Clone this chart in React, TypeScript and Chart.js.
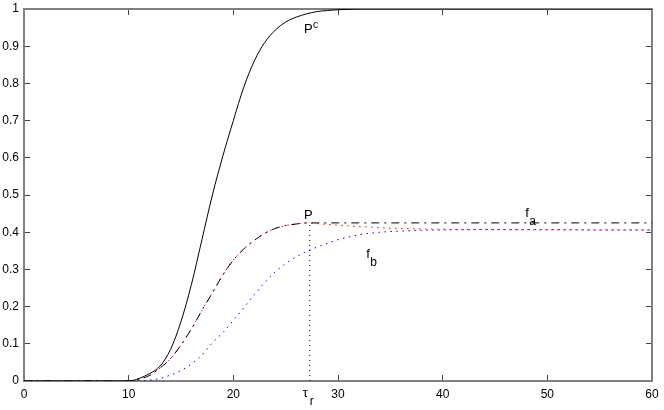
import React, { useEffect, useRef } from "react";
import { Chart, registerables } from "chart.js";
Chart.register(...registerables);

// Time axis (shared x values)
const xs = [0, 5, 10, 11, 12, 13, 14, 15, 16, 17, 18, 19, 20, 21, 22, 23, 24, 25, 26, 27, 28, 29, 30, 31, 32, 33, 34, 36, 38, 40, 45, 50, 55, 60];
// P^c (solid)
const pcValues = [0, 0, 0, 0.007, 0.02, 0.04, 0.085, 0.16, 0.26, 0.38, 0.5, 0.605, 0.7, 0.79, 0.86, 0.91, 0.943, 0.965, 0.978, 0.987, 0.993, 0.996, 0.998, 0.999, 1, 1, 1, 1, 1, 1, 1, 1, 1, 1];
// P (dash-dot)
const pValues = [0, 0, 0, 0.005, 0.015, 0.035, 0.06, 0.097, 0.14, 0.19, 0.237, 0.285, 0.325, 0.355, 0.378, 0.397, 0.41, 0.418, 0.422, 0.425, 0.425, 0.425, 0.425, 0.425, 0.425, 0.425, 0.425, 0.425, 0.425, 0.425, 0.425, 0.425, 0.425, 0.425];
// f_a (red dotted)
const faValues = [0, 0, 0, 0.005, 0.015, 0.035, 0.06, 0.097, 0.14, 0.19, 0.237, 0.285, 0.325, 0.355, 0.378, 0.397, 0.41, 0.418, 0.422, 0.425, 0.423, 0.421, 0.419, 0.417, 0.415, 0.414, 0.412, 0.41, 0.409, 0.408, 0.407, 0.406, 0.406, 0.406];
// f_b (blue dotted)
const fbValues = [0, 0, 0, 0, 0.002, 0.007, 0.016, 0.028, 0.046, 0.07, 0.103, 0.13, 0.163, 0.197, 0.232, 0.265, 0.293, 0.316, 0.334, 0.348, 0.36, 0.37, 0.38, 0.387, 0.393, 0.397, 0.4, 0.403, 0.405, 0.406, 0.407, 0.407, 0.406, 0.406];

const xTicks = [0, 10, 20, 30, 40, 50, 60];
const yTicks = [0, 0.1, 0.2, 0.3, 0.4, 0.5, 0.6, 0.7, 0.8, 0.9, 1];
const tauR = 27.3;
const tauLevel = 0.425;

const FONT = "'Liberation Sans', Arial, Helvetica, sans-serif";
const FRAME = "#808080";
const TICK = "#444";
const TL = -6; // inward tick length

const toPts = (vals: number[]) => xs.map((x, i) => ({ x, y: vals[i] }));

const labelPlugin = {
  id: "annotLabels",
  afterDraw(chart: any) {
    const { ctx, scales } = chart;
    const xS = scales.x;
    const yS = scales.y;
    ctx.save();
    ctx.fillStyle = "#000";
    ctx.textBaseline = "alphabetic";
    ctx.textAlign = "left";
    const txt = (s: string, xv: number, yv: number, size: number, dx = 0, dy = 0) => {
      ctx.font = `${size}px ${FONT}`;
      ctx.fillText(s, xS.getPixelForValue(xv) + dx, yS.getPixelForValue(yv) + dy);
    };
    txt("P", 26.75, 0.935, 13);
    txt("c", 26.75, 0.935, 10, 9, -5);
    txt("P", 26.75, 0.435, 13);
    txt("f", 47.9, 0.442, 13);
    txt("a", 47.9, 0.442, 12, 4, 8);
    txt("f", 32.7, 0.331, 13);
    txt("b", 32.7, 0.331, 12, 4, 8);
    ctx.font = `13px ${FONT}`;
    const tx = xS.getPixelForValue(tauR) - 7;
    ctx.fillText("τ", tx, 397);
    ctx.font = `12px ${FONT}`;
    ctx.fillText("r", tx + 7, 405);
    ctx.restore();
  },
};

const gridOpts = {
  display: true,
  drawOnChartArea: false,
  drawTicks: true,
  tickLength: TL,
  tickColor: TICK,
  tickWidth: 1,
};
const borderOpts = { display: true, color: FRAME, width: 2 };

const fitTo = (w: number | null, h: number | null) => (s: any) => {
  if (w !== null) s.width = w;
  if (h !== null) s.height = h;
  s.paddingTop = 0;
  s.paddingBottom = 0;
  s.paddingLeft = 0;
  s.paddingRight = 0;
};

export default function App() {
  const ref = useRef<HTMLCanvasElement | null>(null);
  useEffect(() => {
    document.body.style.margin = "0";
    const canvas = ref.current;
    if (!canvas) return;
    const chart = new Chart(canvas, {
      type: "line",
      data: {
        datasets: [
          {
            label: "Pc",
            data: toPts(pcValues),
            borderColor: "#000",
            borderWidth: 1,
            pointRadius: 0,
            cubicInterpolationMode: "monotone",
            order: 1,
          },
          {
            label: "P",
            data: toPts(pValues),
            borderColor: "#000",
            borderWidth: 1,
            borderDash: [8, 5, 2, 5],
            pointRadius: 0,
            cubicInterpolationMode: "monotone",
            order: 2,
          },
          {
            label: "fa",
            data: toPts(faValues),
            borderColor: "#ff0000",
            borderWidth: 1,
            borderDash: [1.5, 4.5],
            pointRadius: 0,
            cubicInterpolationMode: "monotone",
            order: 3,
          },
          {
            label: "fb",
            data: toPts(fbValues),
            borderColor: "#0000ff",
            borderWidth: 1,
            borderDash: [1.5, 4.5],
            pointRadius: 0,
            cubicInterpolationMode: "monotone",
            order: 4,
          },
          {
            label: "tau",
            data: [
              { x: tauR, y: 0 },
              { x: tauR, y: tauLevel },
            ],
            borderColor: "#000",
            borderWidth: 1,
            borderDash: [1, 4],
            pointRadius: 0,
            order: 5,
          },
        ],
      },
      options: {
        responsive: false,
        animation: false,
        events: [],
        layout: { padding: { top: 9, right: 12, left: 0, bottom: 0 } },
        plugins: { legend: { display: false }, tooltip: { enabled: false } },
        scales: {
          x: {
            type: "linear",
            position: "bottom",
            min: 0,
            max: 60,
            afterFit: fitTo(null, 29),
            afterBuildTicks: (s: any) => {
              s.ticks = xTicks.map((v) => ({ value: v }));
            },
            ticks: {
              color: "#000",
              font: { family: FONT, size: 12 },
              padding: 6 - TL,
              maxRotation: 0,
              autoSkip: false,
              callback: (v: any) => String(v),
            },
            grid: gridOpts,
            border: borderOpts,
          },
          x2: {
            type: "linear",
            position: "top",
            min: 0,
            max: 60,
            afterFit: fitTo(null, 0),
            afterBuildTicks: (s: any) => {
              s.ticks = xTicks.map((v) => ({ value: v }));
            },
            ticks: { display: false },
            grid: gridOpts,
            border: borderOpts,
          },
          y: {
            type: "linear",
            position: "left",
            min: 0,
            max: 1,
            afterFit: fitTo(24, null),
            afterBuildTicks: (s: any) => {
              s.ticks = yTicks.map((v) => ({ value: v }));
            },
            ticks: {
              color: "#000",
              font: { family: FONT, size: 12 },
              padding: 5 - TL,
              autoSkip: false,
              callback: (v: any) => String(Math.round(Number(v) * 10) / 10),
            },
            grid: gridOpts,
            border: borderOpts,
          },
          y2: {
            type: "linear",
            position: "right",
            min: 0,
            max: 1,
            afterFit: fitTo(0, null),
            afterBuildTicks: (s: any) => {
              s.ticks = yTicks.map((v) => ({ value: v }));
            },
            ticks: { display: false },
            grid: gridOpts,
            border: borderOpts,
          },
        },
      },
      plugins: [labelPlugin],
    } as any);
    return () => chart.destroy();
  }, []);
  return <canvas ref={ref} width={664} height={410} style={{ display: "block" }} />;
}
